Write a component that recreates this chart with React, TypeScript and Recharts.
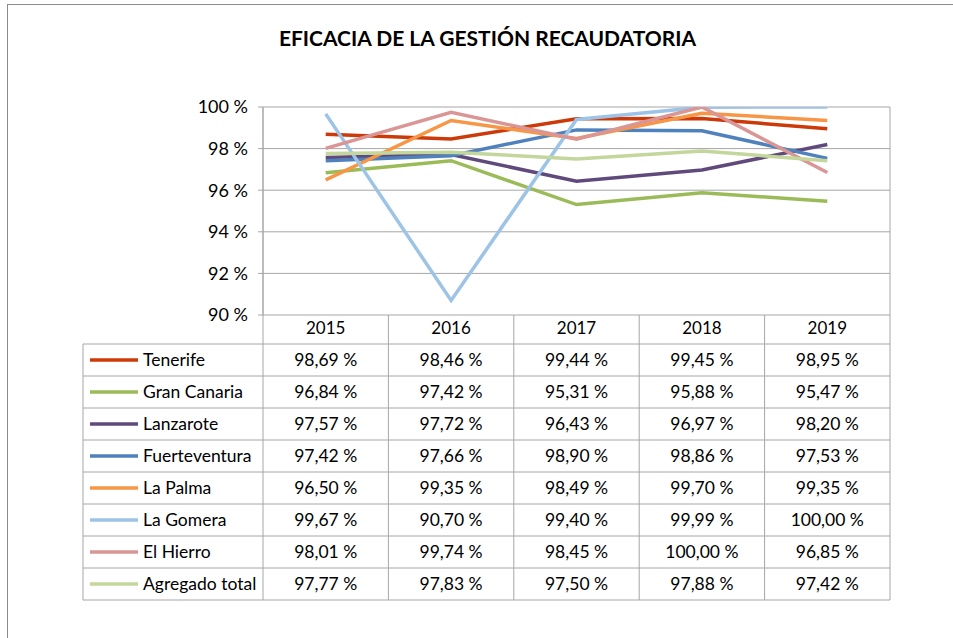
import { CartesianGrid, Line, LineChart, XAxis, YAxis } from "recharts";

const years = ["2015", "2016", "2017", "2018", "2019"];

const tenerife = [98.69, 98.46, 99.44, 99.45, 98.95];
const granCanaria = [96.84, 97.42, 95.31, 95.88, 95.47];
const lanzarote = [97.57, 97.72, 96.43, 96.97, 98.2];
const fuerteventura = [97.42, 97.66, 98.9, 98.86, 97.53];
const laPalma = [96.5, 99.35, 98.49, 99.7, 99.35];
const laGomera = [99.67, 90.7, 99.4, 99.99, 100.0];
const elHierro = [98.01, 99.74, 98.45, 100.0, 96.85];
const agregado = [97.77, 97.83, 97.5, 97.88, 97.42];

const yTicks = [90, 92, 94, 96, 98, 100];

const series = [
  { key: "Tenerife", values: tenerife, color: "#CC3A0A" },
  { key: "Gran Canaria", values: granCanaria, color: "#9BBB59" },
  { key: "Lanzarote", values: lanzarote, color: "#604A7B" },
  { key: "Fuerteventura", values: fuerteventura, color: "#4F81BD" },
  { key: "La Palma", values: laPalma, color: "#F79646" },
  { key: "La Gomera", values: laGomera, color: "#9DC3E6" },
  { key: "El Hierro", values: elHierro, color: "#D99694" },
  { key: "Agregado total", values: agregado, color: "#C3D69B" },
];

const data = years.map((year, i) => {
  const row: Record<string, string | number> = { year };
  series.forEach((s) => {
    row[s.key] = s.values[i];
  });
  return row;
});

// layout of the plot area (matches the Excel export)
const W = 953;
const H = 638;
const plotLeft = 263;
const plotRight = 890;
const plotTop = 107;
const plotBottom = 315;
const colW = (plotRight - plotLeft) / years.length;
const tableLeft = 83;
const headerBottom = 344;
const rowH = 32;
const gridColor = "#A6A6A6";
const font = "Lato, 'Open Sans', sans-serif";
const fs = 17.5;

const fmt = (v: number) => v.toFixed(2).replace(".", ",") + " %";

function DataTable() {
  const tableBottom = headerBottom + rowH * series.length;
  return (
    <svg
      width={W}
      height={H}
      style={{ position: "absolute", left: 0, top: 0, pointerEvents: "none" }}
    >
      {/* verticals */}
      <line x1={plotLeft} x2={plotLeft} y1={plotTop} y2={tableBottom} stroke={gridColor} />
      <line x1={plotRight} x2={plotRight} y1={plotTop} y2={tableBottom} stroke={gridColor} />
      <line x1={tableLeft} x2={tableLeft} y1={headerBottom} y2={tableBottom} stroke={gridColor} />
      {years.slice(1).map((_, i) => {
        const x = plotLeft + colW * (i + 1);
        return <line key={i} x1={x} x2={x} y1={plotBottom} y2={tableBottom} stroke={gridColor} />;
      })}
      {/* horizontals */}
      {series.map((_, i) => (
        <line
          key={i}
          x1={tableLeft}
          x2={plotRight}
          y1={headerBottom + rowH * i}
          y2={headerBottom + rowH * i}
          stroke={gridColor}
        />
      ))}
      <line x1={tableLeft} x2={plotRight} y1={tableBottom} y2={tableBottom} stroke={gridColor} />
      {series.map((s, i) => {
        const cy = headerBottom + rowH * i + rowH / 2;
        return (
          <g key={s.key}>
            <line x1={90} x2={138} y1={cy} y2={cy} stroke={s.color} strokeWidth={3.5} />
            <text x={143} y={cy} dy="0.35em" fontSize={fs} fontFamily={font} fill="#000">
              {s.key}
            </text>
            {s.values.map((v, j) => (
              <text
                key={j}
                x={plotLeft + colW * (j + 0.5)}
                y={cy}
                dy="0.35em"
                textAnchor="middle"
                fontSize={fs}
                fontFamily={font}
                fill="#000"
              >
                {fmt(v)}
              </text>
            ))}
          </g>
        );
      })}
    </svg>
  );
}

export default function App() {
  return (
    <div style={{ position: "absolute", left: 0, top: 0, width: W, height: H, background: "#fff" }}>
      <div
        style={{
          position: "absolute",
          left: 7,
          top: 4,
          width: W,
          height: H,
          border: "1.5px solid #8C8C8C",
          boxSizing: "border-box",
        }}
      />
      <div
        style={{
          position: "absolute",
          left: 0,
          top: 25,
          width: 975,
          textAlign: "center",
          fontFamily: font,
          fontWeight: "bold",
          fontSize: 21,
          color: "#000",
        }}
      >
        EFICACIA DE LA GESTIÓN RECAUDATORIA
      </div>
      <div style={{ position: "absolute", left: 0, top: 0 }}>
        <LineChart
          width={W}
          height={H}
          data={data}
          margin={{ top: plotTop, left: plotLeft - 60, right: W - plotRight, bottom: H - plotBottom - 30 }}
        >
          <CartesianGrid horizontal vertical={false} stroke={gridColor} strokeOpacity={1} />
          <XAxis
            dataKey="year"
            height={30}
            padding={{ left: colW / 2, right: colW / 2 }}
            axisLine={false}
            tickLine={false}
            tickSize={0}
            tickMargin={7}
            tick={{ fill: "#000", fontSize: 17, fontFamily: font }}
          />
          <YAxis
            width={60}
            domain={[90, 100]}
            ticks={yTicks}
            allowDataOverflow
            axisLine={{ stroke: gridColor }}
            tickLine={{ stroke: gridColor }}
            tickSize={5}
            tickMargin={10}
            tickFormatter={(v) => `${v} %`}
            tick={{ fill: "#000", fontSize: 18, fontFamily: font }}
          />
          {series.map((s) => (
            <Line
              key={s.key}
              dataKey={s.key}
              stroke={s.color}
              strokeWidth={3.5}
              dot={false}
              activeDot={false}
              isAnimationActive={false}
            />
          ))}
        </LineChart>
      </div>
      <DataTable />
    </div>
  );
}
